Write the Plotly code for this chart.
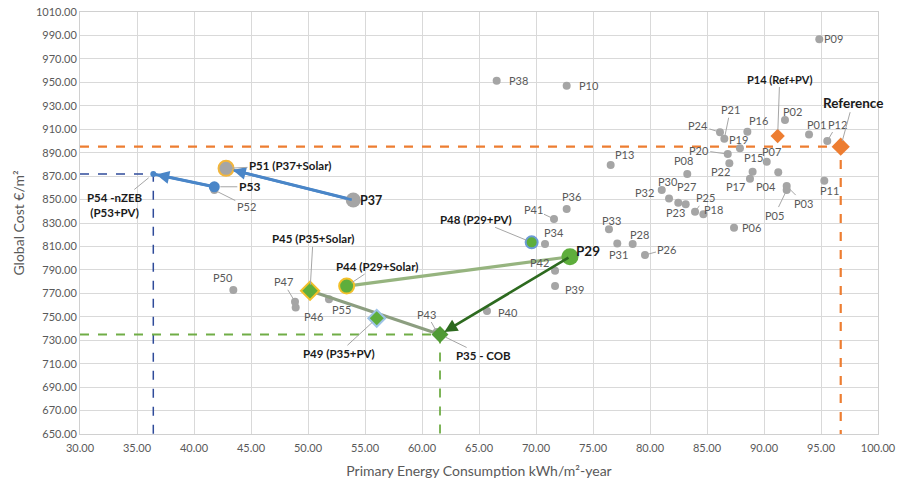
import plotly.graph_objects as go

# ---- data: primary energy (kWh/m2-year) vs global cost (EUR/m2) ----
# ordinary packages (grey markers)
names = ["P01", "P02", "P03", "P04", "P05", "P06", "P07", "P08", "P09", "P10",
         "P11", "P12", "P13", "P15", "P16", "P17", "P18", "P19", "P20", "P21",
         "P22", "P23", "P24", "P25", "P26", "P27", "P28", "P30", "P31", "P32",
         "P33", "P34", "P36", "P38", "P39", "P40", "P41", "P42", "P43", "P46",
         "P47", "P50", "P52", "P55"]
pec = [93.95, 91.84, 91.99, 91.25, 91.99, 87.37, 90.24, 83.27, 94.85, 72.69,
       95.29, 95.55, 76.55, 89.00, 88.54, 88.77, 84.68, 87.89, 86.82, 86.52,
       86.96, 82.48, 86.14, 83.95, 79.56, 83.13, 78.48, 81.67, 77.13, 81.03,
       76.40, 70.79, 72.69, 66.55, 71.67, 65.70, 71.58, 71.67, 61.30, 48.92,
       48.86, 43.45, 41.78, 51.84]
cost = [905.6, 917.8, 861.5, 873.2, 858.1, 826.0, 882.3, 871.8, 986.7, 947.1,
        866.1, 899.9, 879.5, 873.7, 907.9, 867.8, 837.4, 893.7, 888.8, 901.9,
        880.9, 847.3, 907.4, 839.6, 802.7, 845.9, 812.0, 851.0, 812.6, 858.1,
        824.6, 812.0, 841.9, 951.4, 776.2, 754.9, 833.4, 789.3, 737.0, 758.0,
        762.8, 772.8, 858.1, 764.9]

# highlighted packages
ref_x, ref_y = 96.73, 895.1          # Reference
p14_x, p14_y = 91.20, 904.2          # P14 (Ref+PV)
p29_x, p29_y = 72.98, 801.2          # P29
p35_x, p35_y = 61.58, 734.9          # P35 - COB
p37_x, p37_y = 53.97, 849.6          # P37
p44_x, p44_y = 53.39, 776.2          # P44 (P29+Solar)
p45_x, p45_y = 50.18, 772.2          # P45 (P35+Solar)
p48_x, p48_y = 69.62, 813.5          # P48 (P29+PV)
p49_x, p49_y = 56.03, 748.7          # P49 (P35+PV)
p51_x, p51_y = 42.81, 876.6          # P51 (P37+Solar)
p53_x, p53_y = 41.78, 860.9          # P53
p54_x, p54_y = 36.43, 871.8          # P54 -nZEB (P53+PV)

x_min, x_max = 30, 100
y_min, y_max = 650, 1010

# ---- label placement (pixel offsets from the point) ----
# plain labels: (xshift, yshift)
plain_offsets = {
    "P01": (7, 10), "P02": (8, 9), "P04": (-12, -14), "P06": (17, 0),
    "P07": (5, 10), "P08": (-4, 14), "P09": (14, 1), "P10": (22, 0),
    "P11": (5, -10), "P13": (14, 10), "P15": (1, 14), "P16": (11, 11),
    "P17": (-14, -8), "P18": (10, 5), "P19": (-1, 9), "P22": (-9, -8),
    "P23": (-3, -10), "P27": (1, 18), "P28": (7, 10), "P30": (-1, 17),
    "P31": (1, -11), "P32": (-17, -2), "P33": (3, 9), "P34": (9, 12),
    "P36": (5, 13), "P38": (22, 0), "P39": (19, -3), "P40": (21, -1),
    "P42": (-16, 8), "P46": (18, -9), "P50": (-10, 13), "P55": (13, -10),
}
# labels with a leader line: (ax, ay) where ay is positive downwards
leader_offsets = {
    "P03": (17, 17), "P05": (-12, 25), "P12": (10, -17), "P20": (-29, -4),
    "P21": (6, -29), "P24": (-22, -7), "P25": (10, -14), "P26": (22, -6),
    "P41": (-21, -10), "P43": (-10, -18), "P47": (-12, -20), "P52": (32, 16),
}

GREY = "#a5a5a5"
LABEL_GREY = "#595959"
GREEN = "#5eae3c"
DARK_GREEN = "#2d6a1f"
BLUE = "#4a86c8"
ORANGE = "#ed7d31"
FONT = "Lato, 'Open Sans', sans-serif"

fig = go.Figure()

# guide lines (dashed) from the axes to Reference, P54 and P35
for gx, gy, col, w in [(ref_x, ref_y, ORANGE, 2.2), (p54_x, p54_y, "#2f4b9a", 1.5),
                       (p35_x, p35_y, "#70ad47", 1.8)]:
    fig.add_trace(go.Scatter(x=[x_min, gx, gx], y=[gy, gy, y_min], mode="lines",
                             line=dict(color=col, width=w, dash="dash"),
                             hoverinfo="skip", showlegend=False))

# grey packages
fig.add_trace(go.Scatter(x=pec, y=cost, mode="markers", text=names,
                         marker=dict(color=GREY, size=8), showlegend=False))

# connecting lines
fig.add_trace(go.Scatter(x=[p29_x, p44_x], y=[p29_y, p44_y], mode="lines",
                         line=dict(color="#96b47f", width=3.2), showlegend=False))
fig.add_trace(go.Scatter(x=[p45_x, p35_x], y=[p45_y, p35_y], mode="lines",
                         line=dict(color="#8c9e80", width=3), showlegend=False))
fig.add_trace(go.Scatter(x=[p37_x, p51_x], y=[p37_y, p51_y], mode="lines",
                         line=dict(color=BLUE, width=3), showlegend=False))
fig.add_trace(go.Scatter(x=[p53_x, p54_x], y=[p53_y, p54_y], mode="lines",
                         line=dict(color=BLUE, width=3), showlegend=False))


def special(x, y, symbol, size, color, line_color=None, line_width=0):
    fig.add_trace(go.Scatter(
        x=[x], y=[y], mode="markers", showlegend=False,
        marker=dict(symbol=symbol, size=size, color=color,
                    line=dict(color=line_color or color, width=line_width))))


special(p37_x, p37_y, "circle", 15, GREY)
special(p51_x, p51_y, "circle", 15, GREY, "#f2b63c", 2)
special(p53_x, p53_y, "circle", 11, BLUE)
special(p54_x, p54_y, "circle", 6, BLUE)
special(p29_x, p29_y, "circle", 17, GREEN)
special(p44_x, p44_y, "circle", 15, GREEN, "#f2c02a", 2)
special(p48_x, p48_y, "circle", 12, GREEN, "#6b9bd6", 2)
special(p45_x, p45_y, "diamond", 14, GREEN, "#f2c02a", 2)
special(p49_x, p49_y, "diamond", 13, GREEN, "#9dc3e6", 2)
special(p35_x, p35_y, "diamond", 13, "#4f9a34")
special(p14_x, p14_y, "diamond", 11, ORANGE)
special(ref_x, ref_y, "diamond", 14, ORANGE)

annotations = []

# arrows between packages
for (x0, y0, x1, y1, col, w, so) in [
        (p37_x, p37_y, p51_x, p51_y, BLUE, 2.6, 7),
        (p53_x, p53_y, p54_x, p54_y, BLUE, 2.6, 3),
        (p29_x, p29_y, p35_x, p35_y, DARK_GREEN, 2.6, 5)]:
    annotations.append(dict(x=x1, y=y1, ax=x0, ay=y0, xref="x", yref="y",
                            axref="x", ayref="y", text="", showarrow=True,
                            arrowhead=2, arrowsize=1, arrowwidth=w,
                            arrowcolor=col, standoff=so))

lookup = dict(zip(names, zip(pec, cost)))
for n, (dx, dy) in plain_offsets.items():
    px, py = lookup[n]
    annotations.append(dict(x=px, y=py, text=n, showarrow=False, xshift=dx,
                            yshift=dy, font=dict(size=11, color=LABEL_GREY,
                                                 family=FONT)))
for n, (dx, dy) in leader_offsets.items():
    px, py = lookup[n]
    annotations.append(dict(x=px, y=py, text=n, showarrow=True, arrowhead=0,
                            arrowwidth=1, arrowcolor="#a6a6a6", ax=dx, ay=dy,
                            standoff=3,
                            font=dict(size=11, color=LABEL_GREY, family=FONT)))

# bold labels of highlighted packages
bold_labels = [
    (p14_x, p14_y, "P14 (Ref+PV)", 2, -57, 11, True),
    (ref_x, ref_y, "Reference", 12, -44, 13.5, True),
    (p29_x, p29_y, "P29", 18, -6, 13.5, False),
    (p37_x, p37_y, "P37", 18, 0, 12.5, False),
    (p48_x, p48_y, "P48 (P29+PV)", -56, -23, 11.5, True),
    (p44_x, p44_y, "P44 (P29+Solar)", 30, -20, 11.5, True),
    (p45_x, p45_y, "P45 (P35+Solar)", 3, -52, 11.5, True),
    (p49_x, p49_y, "P49 (P35+PV)", -38, 35, 11.5, True),
    (p35_x, p35_y, "P35 - COB", 43, 21, 11.5, True),
    (p51_x, p51_y, "P51 (P37+Solar)", 64, -3, 11.5, True),
    (p53_x, p53_y, "P53", 35, 0, 12, True),
    (p54_x, p54_y, "P54 -nZEB<br>(P53+PV)", -38, 31, 11.5, True),
]
for (bx, by, txt, dx, dy, size, leader) in bold_labels:
    font = dict(size=size, color="#1a1a1a", family=FONT)
    if leader:
        annotations.append(dict(x=bx, y=by, text="<b>%s</b>" % txt,
                                showarrow=True, arrowhead=0, arrowwidth=1,
                                arrowcolor="#a6a6a6", ax=dx, ay=dy, standoff=6,
                                font=font))
    else:
        annotations.append(dict(x=bx, y=by, text="<b>%s</b>" % txt,
                                showarrow=False, xshift=dx, yshift=-dy,
                                font=font))

axis_common = dict(showgrid=True, gridcolor="#d9d9d9", gridwidth=1,
                   zeroline=False, showline=True, linecolor="#d0d0d0",
                   mirror=True, ticks="", tickformat=".2f", automargin=False,
                   tickfont=dict(size=11, color=LABEL_GREY, family=FONT),
                   title_font=dict(size=14, color=LABEL_GREY, family=FONT))

fig.update_layout(
    width=898, height=482,
    margin=dict(l=80, r=20, t=12, b=48),
    paper_bgcolor="white", plot_bgcolor="white",
    font=dict(family=FONT),
    xaxis=dict(range=[x_min, x_max], dtick=5, tick0=30, ticklabelstandoff=4,
               title=dict(text="Primary Energy Consumption kWh/m²-year",
                          standoff=12), **axis_common),
    yaxis=dict(range=[y_min, y_max], dtick=20, tick0=650,
               title=dict(text="Global Cost €/m²", standoff=8), **axis_common),
    annotations=annotations,
    showlegend=False,
)

fig.write_html("out.html")
